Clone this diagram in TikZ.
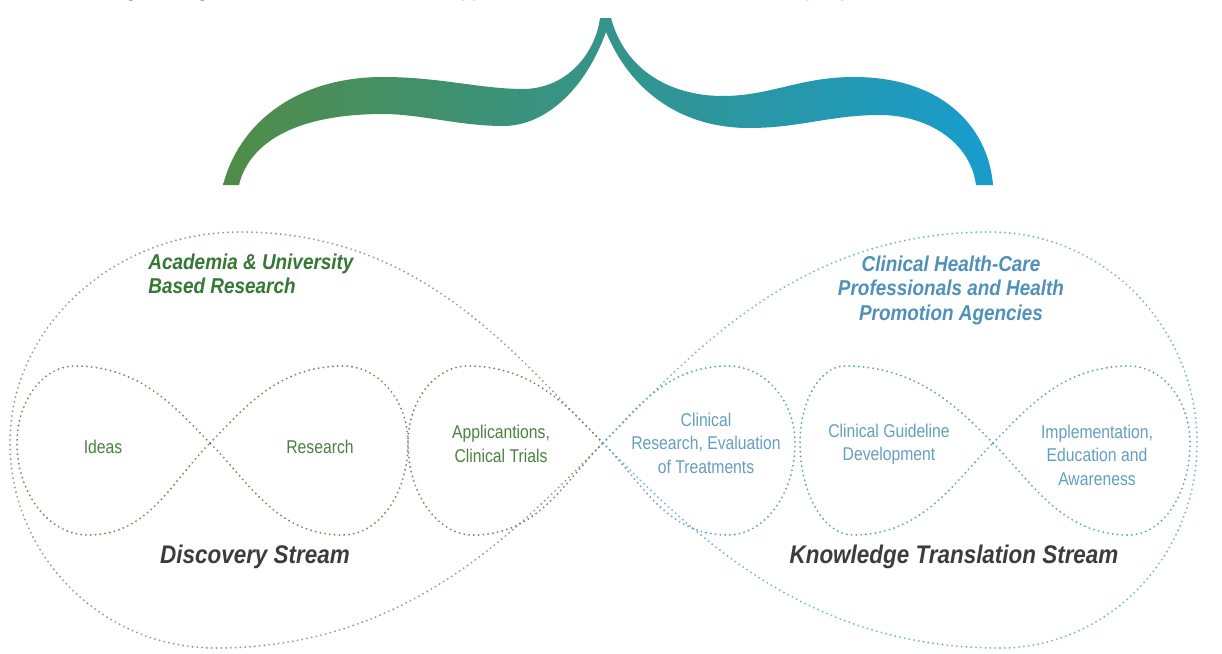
\documentclass[tikz,border=0pt]{standalone}
\usepackage{fontspec}
\newfontfamily\condfont[FakeStretch=0.85]{Liberation Sans}
\newfontfamily\headfont[FakeStretch=0.88]{Liberation Sans}
\newfontfamily\titlefont{Carlito}
\definecolor{bgreen}{RGB}{80,140,72}
\definecolor{bteal}{RGB}{22,150,145}
\definecolor{bblue}{RGB}{24,156,206}
\definecolor{headG}{RGB}{52,120,52}
\definecolor{labG}{RGB}{72,130,62}
\definecolor{headB}{RGB}{80,145,185}
\definecolor{labB}{RGB}{100,158,192}
\definecolor{streamC}{RGB}{60,60,60}
\definecolor{dotG}{RGB}{125,135,110}
\definecolor{dotB}{RGB}{95,165,190}
\definecolor{dotGL}{RGB}{150,158,140}
\definecolor{dotBL}{RGB}{115,185,198}
\tikzset{
  dotline/.style={line width=2.1pt, line cap=round, dash pattern=on 0pt off 4.8pt},
  smalllab/.style={inner sep=0pt, align=center, font=\condfont\fontsize{18.5}{23.5}\selectfont},
  headlab/.style={inner sep=0pt, font=\headfont\bfseries\itshape\fontsize{21.5}{24.5}\selectfont},
  streamlab/.style={inner sep=0pt, text=streamC, font=\headfont\bfseries\itshape\fontsize{25.5}{30}\selectfont},
}
% #1 style, #2 cx, #3 cy, #4 dir, #5 width, #6 top x offset, #7 top height, #8 bottom x offset, #9 bottom depth
\newcommand{\lobe}[9]{%
  \draw[#1] (#2,#3)
   .. controls ({#2+(#4)*0.42*#7},{#3-0.42*#7}) and ({#2+(#4)*0.5*#6},{#3-#7}) .. ({#2+(#4)*#6},{#3-#7})
   .. controls ({#2+(#4)*(#6+0.55*(#5-#6))},{#3-#7}) and ({#2+(#4)*#5},{#3-0.55*#7}) .. ({#2+(#4)*#5},{#3})
   .. controls ({#2+(#4)*#5},{#3+0.55*#9}) and ({#2+(#4)*(#8+0.55*(#5-#8))},{#3+#9}) .. ({#2+(#4)*#8},{#3+#9})
   .. controls ({#2+(#4)*0.5*#8},{#3+#9}) and ({#2+(#4)*0.42*#9},{#3+0.42*#9}) .. (#2,#3);}
\begin{document}
\begin{tikzpicture}[x=1pt,y=-1pt]
\useasboundingbox (0,0) rectangle (1222,653);
% cut-off title line (only descenders are visible)
\begin{scope}
\clip (0,0) rectangle (1222,653);
\node[anchor=base west, inner sep=0pt, font=\titlefont\bfseries\fontsize{20}{24}\selectfont] (title) at (55,-2.2)
 {Achieving an integrated and collaborative team approach, where new evidence is efficiently implemented.};
\end{scope}
% brace
\shade[left color=bgreen, middle color=bteal, right color=bblue]
 (223,185) .. controls (240,120) and (300,77) .. (383,77)
 .. controls (440,77) and (480,89) .. (524,89)
 .. controls (570,88) and (596,50) .. (600,18)
 -- (611,18)
 .. controls (625,70) and (670,96) .. (723,96)
 .. controls (770,96) and (800,77) .. (854,77)
 .. controls (940,77) and (988,125) .. (993,185)
 -- (976,185)
 .. controls (970,140) and (925,115) .. (880,115)
 .. controls (830,115) and (800,128) .. (749,128)
 .. controls (680,128) and (630,90) .. (606,32)
 .. controls (585,90) and (545,126) .. (503,126)
 .. controls (460,126) and (420,114) .. (383,114)
 .. controls (300,114) and (250,140) .. (239,185) -- cycle;
% big infinity
\lobe{dotline, dotGL}{603}{443}{-1}{593}{363}{211}{388}{205}
\lobe{dotline, dotBL}{603}{443}{1}{594}{387}{211}{397}{205}
% small infinities
\lobe{dotline, dotG}{210}{443}{-1}{193}{135}{77}{122}{92}
\lobe{dotline, dotG}{210}{443}{1}{198}{133}{77}{133}{92}
\lobe{dotline, dotG}{603}{443}{-1}{195}{135}{77}{130}{92}
\lobe{dotline, dotB}{603}{443}{1}{192}{125}{77}{125}{92}
\lobe{dotline, dotB}{993}{443}{-1}{193}{148}{77}{140}{92}
\lobe{dotline, dotB}{993}{443}{1}{197}{136}{77}{136}{92}
% labels
\node[headlab, text=headG, align=left] (acad) at (251,274) {Academia \& University\\Based Research};
\node[headlab, text=headB, align=center] (clin) at (951,290) {Clinical Health-Care\\Professionals and Health\\Promotion Agencies};
\node[smalllab, text=labG] (ideas) at (103,447) {Ideas};
\node[smalllab, text=labG] (research) at (320,447) {Research};
\node[smalllab, text=labG] (appl) at (501,444) {Applicantions,\\Clinical Trials};
\node[smalllab, text=labB] (clinres) at (706,443) {Clinical\\Research, Evaluation\\of Treatments};
\node[smalllab, text=labB] (guide) at (889,444) {Clinical Guideline\\Development};
\node[smalllab, text=labB] (impl) at (1097,455) {Implementation,\\Education and\\Awareness};
\node[streamlab] (disc) at (255,557) {Discovery Stream};
\node[streamlab] (know) at (954,557) {Knowledge Translation Stream};
\end{tikzpicture}
\end{document}
